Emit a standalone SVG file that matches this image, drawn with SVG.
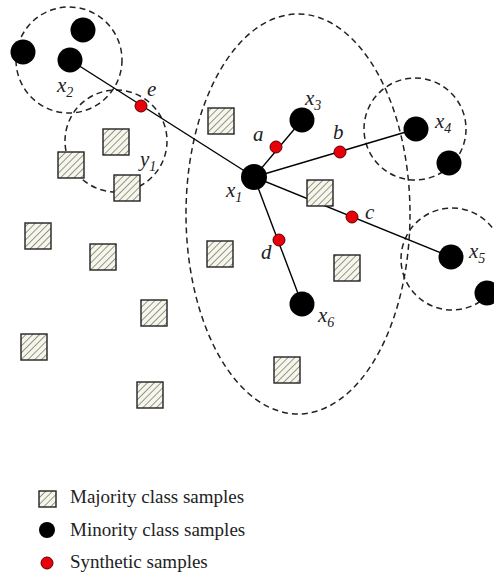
<svg xmlns="http://www.w3.org/2000/svg" width="494" height="573" viewBox="0 0 494 573">
<defs>
<pattern id="hatch" patternUnits="userSpaceOnUse" width="4.8" height="4.8" patternTransform="rotate(45)">
<rect width="4.8" height="4.8" fill="#f6f6ea"/>
<line x1="0" y1="0" x2="0" y2="4.8" stroke="#333" stroke-width="1"/>
</pattern>
<style>
.dash{fill:none;stroke:#222;stroke-width:1.5;stroke-dasharray:6,4}
.sq{fill:url(#hatch);stroke:#222;stroke-width:1.4}
.min{fill:#000}
.syn{fill:#e8000b;stroke:#5a0000;stroke-width:1}
.edge{stroke:#000;stroke-width:1.4;fill:none}
.lbl{font-family:"Liberation Serif",serif;font-style:italic;font-size:21px;fill:#222}
.sub{font-size:14px}
.leg{font-family:"Liberation Serif",serif;font-size:19px;fill:#222}
</style>
</defs>
<rect width="494" height="573" fill="#fff"/>
<g id="regions">
<circle class="dash" cx="69" cy="60" r="53"/>
<circle class="dash" cx="116" cy="141" r="51"/>
<ellipse class="dash" cx="298" cy="214" rx="112" ry="200"/>
<circle class="dash" cx="415" cy="129" r="51"/>
<circle class="dash" cx="452" cy="259" r="51"/>
</g>
<g id="connectors">
<line class="edge" x1="70" y1="60" x2="254" y2="177"/>
<line class="edge" x1="254" y1="177" x2="302" y2="120"/>
<line class="edge" x1="254" y1="177" x2="416" y2="129"/>
<line class="edge" x1="254" y1="177" x2="451" y2="257"/>
<line class="edge" x1="254" y1="177" x2="302" y2="304"/>
</g>
<g id="majority">
<rect class="sq" x="25" y="223" width="26" height="26"/>
<rect class="sq" x="90" y="244" width="26" height="26"/>
<rect class="sq" x="141" y="300" width="26" height="26"/>
<rect class="sq" x="21" y="334" width="26" height="26"/>
<rect class="sq" x="137" y="382" width="26" height="26"/>
<rect class="sq" x="103" y="129" width="26" height="26"/>
<rect class="sq" x="58" y="152" width="26" height="26"/>
<rect class="sq" x="114" y="175" width="26" height="26"/>
<rect class="sq" x="208" y="108" width="26" height="26"/>
<rect class="sq" x="307" y="180" width="26" height="26"/>
<rect class="sq" x="207" y="241" width="26" height="26"/>
<rect class="sq" x="334" y="255" width="26" height="26"/>
<rect class="sq" x="274" y="357" width="26" height="26"/>
</g>
<g id="minority">
<circle class="min" cx="23" cy="52" r="12.5"/>
<circle class="min" cx="83" cy="30" r="12.5"/>
<circle class="min" cx="70" cy="60" r="12.5"/>
<circle class="min" cx="254" cy="177" r="13"/>
<circle class="min" cx="302" cy="120" r="12.5"/>
<circle class="min" cx="416" cy="129" r="12.5"/>
<circle class="min" cx="449" cy="163" r="12.5"/>
<circle class="min" cx="451" cy="257" r="12.5"/>
<circle class="min" cx="487" cy="293" r="12.5"/>
<circle class="min" cx="302" cy="304" r="12.5"/>
</g>
<g id="synthetic">
<circle class="syn" cx="141" cy="106" r="6"/>
<circle class="syn" cx="276" cy="147" r="6"/>
<circle class="syn" cx="340" cy="152" r="6"/>
<circle class="syn" cx="352" cy="217" r="6"/>
<circle class="syn" cx="279" cy="240" r="6"/>
</g>
<g id="labels">
<text class="lbl" x="57" y="92">x<tspan class="sub" dy="5">2</tspan></text>
<text class="lbl" x="226" y="197">x<tspan class="sub" dy="5">1</tspan></text>
<text class="lbl" x="305" y="105">x<tspan class="sub" dy="5">3</tspan></text>
<text class="lbl" x="435" y="128">x<tspan class="sub" dy="5">4</tspan></text>
<text class="lbl" x="469" y="258">x<tspan class="sub" dy="5">5</tspan></text>
<text class="lbl" x="318" y="322">x<tspan class="sub" dy="5">6</tspan></text>
<text class="lbl" x="140" y="166">y<tspan class="sub" dy="5">1</tspan></text>
<text class="lbl" x="147" y="96">e</text>
<text class="lbl" x="253" y="141">a</text>
<text class="lbl" x="333" y="139">b</text>
<text class="lbl" x="365" y="219">c</text>
<text class="lbl" x="261" y="259">d</text>
</g>
<g id="legend">
<rect class="sq" x="39" y="491" width="17" height="16" stroke-width="1.1"/>
<text class="leg" x="70" y="503">Majority class samples</text>
<circle class="min" cx="47" cy="530" r="8"/>
<text class="leg" x="70" y="536">Minority class samples</text>
<circle class="syn" cx="47" cy="563" r="6"/>
<text class="leg" x="70" y="568">Synthetic samples</text>
</g>
</svg>
